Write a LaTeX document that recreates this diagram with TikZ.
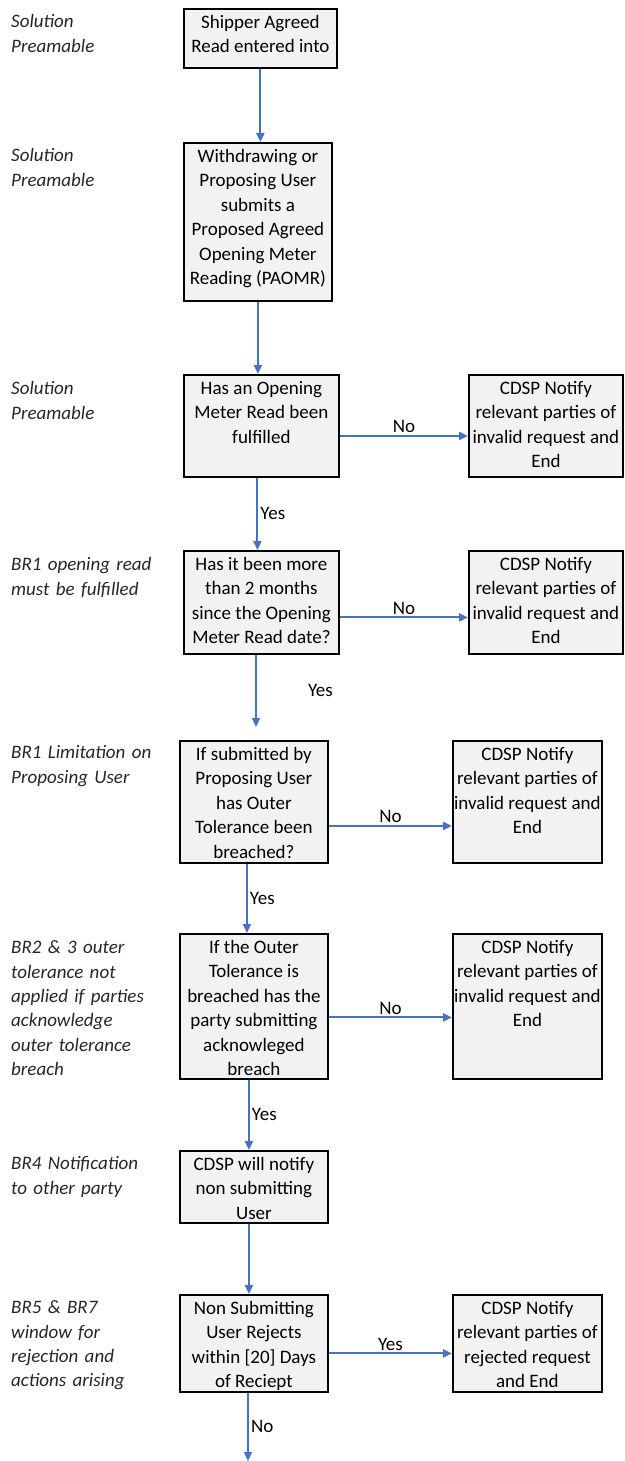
\documentclass[tikz,border=0pt]{standalone}
\usepackage{fontspec}
\setmainfont{Carlito}
\usepackage{xcolor}
\usepackage{tikz}
\usetikzlibrary{arrows.meta,positioning}

\definecolor{boxgray}{HTML}{F2F2F2}
\definecolor{flowblue}{HTML}{4472C4}
\definecolor{notegray}{HTML}{262626}

\newcommand{\firstline}{\rule{0pt}{19.5pt}}
\newcommand{\boxtext}[3]{\parbox[c][#2pt][t]{#1pt}{\centering\firstline #3}}

\tikzset{
  flowbox/.style={draw=black, fill=boxgray, line width=1.8pt, inner sep=0pt, anchor=north west},
  flowline/.style={draw=flowblue, line width=2.1pt, -{Triangle[length=9pt,width=8pt]}},
  sidenote/.style={anchor=north west, text width=175pt, align=left, inner sep=0pt, text=notegray, font=\fontsize{19}{24.4}\selectfont\itshape},
  answer/.style={inner sep=2pt}
}

\begin{document}
\begin{tikzpicture}[x=1pt, y=-1pt, font=\fontsize{19}{24.4}\selectfont]
            \useasboundingbox (0,0) rectangle (624,1461);
            % notes on the left
            \node[sidenote] (note1) at (11,8) {\firstline Solution\\Preamable};
            \node[sidenote] (note2) at (11,142) {\firstline Solution\\Preamable};
            \node[sidenote] (note3) at (11,375) {\firstline Solution\\Preamable};
            \node[sidenote] (note4) at (11,551) {\firstline BR1 opening read\\must be fulfilled};
            \node[sidenote] (note5) at (11,739) {\firstline BR1 Limitation on\\Proposing User};
            \node[sidenote] (note6) at (11,934) {\firstline BR2 \& 3 outer\\tolerance not\\applied if parties\\acknowledge\\outer tolerance\\breach};
            \node[sidenote] (note7) at (11,1150) {\firstline BR4 Notification\\to other party};
            \node[sidenote] (note8) at (11,1294) {\firstline BR5 \& BR7\\window for\\rejection and\\actions arising};
            % process boxes
            \node[flowbox] (shipper) at (183,8) {\boxtext{153}{59}{Shipper Agreed\\Read entered into}};
            \node[flowbox] (submit) at (183,142) {\boxtext{148}{158}{Withdrawing or\\Proposing User\\submits a\\Proposed Agreed\\Opening Meter\\Reading (PAOMR)}};
            \node[flowbox] (opening) at (183,374) {\boxtext{155}{102}{Has an Opening\\Meter Read been\\fulfilled}};
            \node[flowbox] (endA) at (468,374) {\boxtext{154}{102}{CDSP Notify\\relevant parties of\\invalid request and\\End}};
            \node[flowbox] (twomonths) at (183,550) {\boxtext{155}{103}{Has it been more\\than 2 months\\since the Opening\\Meter Read date?}};
            \node[flowbox] (endB) at (468,550) {\boxtext{154}{103}{CDSP Notify\\relevant parties of\\invalid request and\\End}};
            \node[flowbox] (outer) at (179,740) {\boxtext{148}{122}{If submitted by\\Proposing User\\has Outer\\Tolerance been\\breached?}};
            \node[flowbox] (endC) at (452,740) {\boxtext{149}{122}{CDSP Notify\\relevant parties of\\invalid request and\\End}};
            \node[flowbox] (acknowledged) at (179,933) {\boxtext{148}{145}{If the Outer\\Tolerance is\\breached has the\\party submitting\\acknowleged\\breach}};
            \node[flowbox] (endD) at (452,933) {\boxtext{149}{145}{CDSP Notify\\relevant parties of\\invalid request and\\End}};
            \node[flowbox] (notify) at (179,1150) {\boxtext{148}{72}{CDSP will notify\\non submitting\\User}};
            \node[flowbox] (rejects) at (179,1294) {\boxtext{148}{97}{Non Submitting\\User Rejects\\within [20] Days\\of Reciept}};
            \node[flowbox] (endE) at (452,1294) {\boxtext{149}{97}{CDSP Notify\\relevant parties of\\rejected request\\and End}};
            % connectors
            \coordinate (stop) at (256,727);
            \coordinate (exit) at (248,1461);
            \draw[flowline] (shipper.south) -- (shipper.south |- submit.north);
            \draw[flowline] (submit.south) -- (submit.south |- opening.north);
            \draw[flowline] ([xshift=-4pt]opening.south) -- node[answer,right]{Yes} ([xshift=-4pt]twomonths.north);
            \draw[flowline] (twomonths.south -| stop) -- node[answer,right,xshift=49pt]{Yes} (stop);
            \draw[flowline] ([xshift=-7pt]outer.south) -- node[answer,right]{Yes} ([xshift=-7pt]acknowledged.north);
            \draw[flowline] ([xshift=-5pt]acknowledged.south) -- node[answer,right]{Yes} ([xshift=-5pt]notify.north);
            \draw[flowline] ([xshift=-5pt]notify.south) -- ([xshift=-5pt]rejects.north);
            \draw[flowline] (rejects.south -| exit) -- node[answer,right]{No} (exit);
            \draw[flowline] ([yshift=-10pt]opening.east) -- node[answer,above]{No} ([yshift=-10pt]endA.west);
            \draw[flowline] ([yshift=-15pt]twomonths.east) -- node[answer,above]{No} ([yshift=-15pt]endB.west);
            \draw[flowline] ([yshift=-24pt]outer.east) -- node[answer,above]{No} ([yshift=-24pt]endC.west);
            \draw[flowline] ([yshift=-11pt]acknowledged.east) -- node[answer,above]{No} ([yshift=-11pt]endD.west);
            \draw[flowline] ([yshift=-10pt]rejects.east) -- node[answer,above]{Yes} ([yshift=-10pt]endE.west);
        \end{tikzpicture}
\end{document}
